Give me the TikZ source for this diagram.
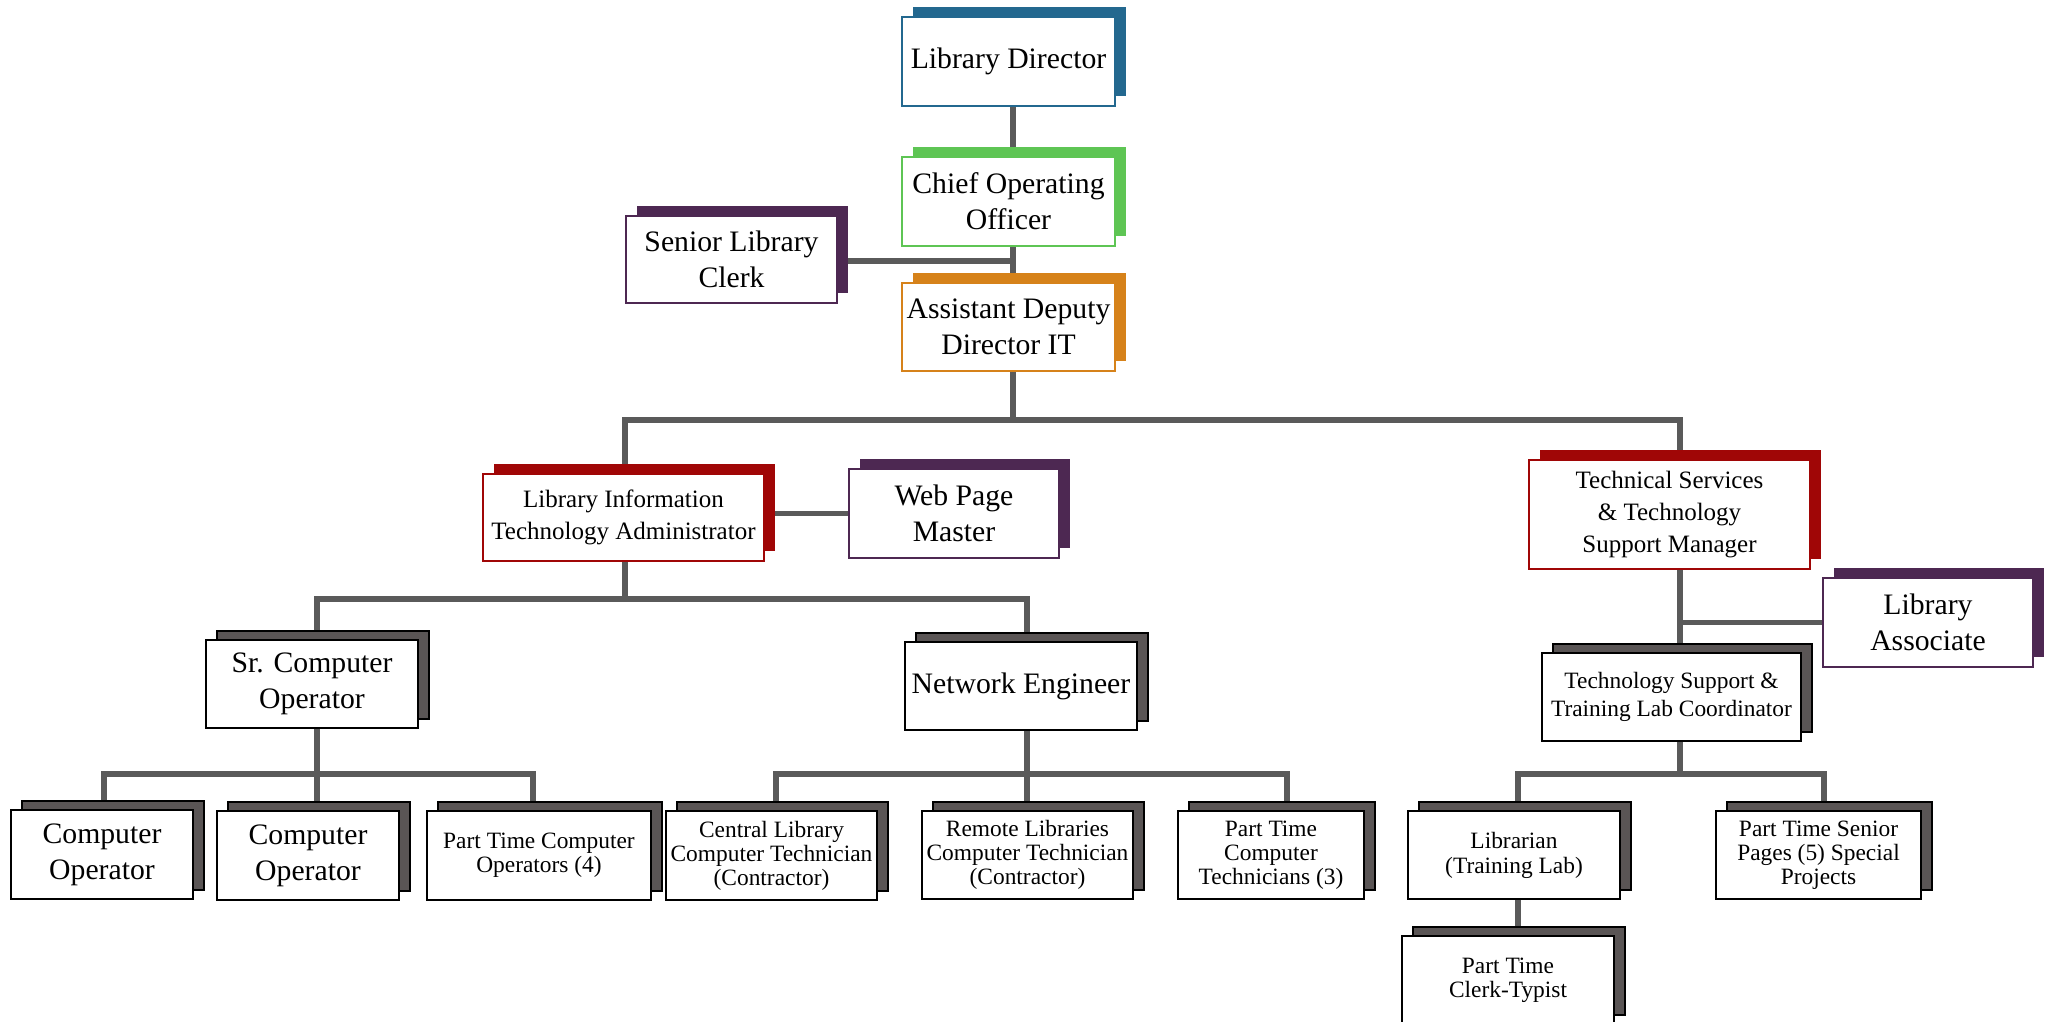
\documentclass[tikz,border=0pt]{standalone}
\usepackage{fontspec}
\setmainfont{Liberation Serif}
\usetikzlibrary{shadows,backgrounds}

\definecolor{dirblue}{RGB}{35,104,143}
\definecolor{coogreen}{RGB}{94,197,84}
\definecolor{itorange}{RGB}{214,130,26}
\definecolor{mgrred}{RGB}{160,6,6}
\definecolor{aidepurple}{RGB}{77,40,82}
\definecolor{boxshade}{RGB}{90,85,85}
\definecolor{linkgray}{RGB}{90,90,90}

\newcommand{\bigtxt}{\fontsize{29.7}{36}\selectfont}
\newcommand{\midtxt}{\fontsize{25}{32}\selectfont}
\newcommand{\smltxt}{\fontsize{23.4}{24}\selectfont}

\tikzset{
  post/.style={draw, fill=white, align=center, inner sep=0pt, font=\bigtxt},
  lead/.style={post, draw=#1, line width=1.5pt,
    general shadow={fill=#1, shadow xshift=11pt, shadow yshift=10pt}},
  staff/.style={post, draw=black, line width=2.2pt,
    general shadow={fill=boxshade, draw=black, line width=1.5pt,
      shadow xshift=11pt, shadow yshift=9pt}},
  link/.style={draw=linkgray, line width=5.5pt}
}

\begin{document}
\begin{tikzpicture}[x=1pt, y=-1pt]
      \useasboundingbox (0,0) rectangle (2054,1022);
      \coordinate (busA) at (0,420);
      \coordinate (busB) at (0,599);
      \coordinate (busC) at (0,774);

      % management
      \node[lead=dirblue, minimum width=213pt, minimum height=89pt] (ld) at (1008.5,61.5) {Library Director};
      \node[lead=coogreen, minimum width=213pt, minimum height=89pt] (coo) at (1008.5,201.5) {Chief Operating\\Officer};
      \node[lead=itorange, minimum width=213pt, minimum height=88pt] (add) at (1008.5,327) {Assistant Deputy\\Director IT};
      \node[lead=aidepurple, minimum width=211pt, minimum height=87pt] (slc) at (731.5,259.5) {Senior Library\\Clerk};
      \node[lead=mgrred, minimum width=281pt, minimum height=87pt, font=\midtxt] (lita) at (623.5,517.5) {Library Information\\Technology Administrator};
      \node[lead=aidepurple, minimum width=210pt, minimum height=89pt] (wpm) at (954,513.5) {Web Page\\Master};
      \node[lead=mgrred, minimum width=281pt, minimum height=109pt, font=\midtxt] (tsm) at (1669.5,514.5) {Technical Services\\\& Technology\\Support Manager};
      \node[lead=aidepurple, minimum width=210pt, minimum height=89pt] (la) at (1928,622.5) {Library\\Associate};

      % staff
      \node[staff, minimum width=212pt, minimum height=88pt] (sco) at (312,684) {Sr. Computer\\Operator};
      \node[staff, minimum width=232pt, minimum height=88pt] (ne) at (1021,686) {Network Engineer};
      \node[staff, minimum width=259pt, minimum height=88pt, font={\fontsize{23.4}{28}\selectfont}] (tstlc) at (1671.5,697) {Technology Support \&\\Training Lab Coordinator};
      \node[staff, minimum width=182pt, minimum height=89pt] (co1) at (102,854.5) {Computer\\Operator};
      \node[staff, minimum width=182pt, minimum height=89pt] (co2) at (308,855.5) {Computer\\Operator};
      \node[staff, minimum width=224pt, minimum height=89pt, font=\smltxt] (ptco) at (539,855.5) {Part Time Computer\\Operators (4)};
      \node[staff, minimum width=211pt, minimum height=89pt, font=\smltxt] (clct) at (771.5,855.5) {Central Library\\Computer Technician\\(Contractor)};
      \node[staff, minimum width=211pt, minimum height=88pt, font=\smltxt] (rlct) at (1027.5,855) {Remote Libraries\\Computer Technician\\(Contractor)};
      \node[staff, minimum width=186pt, minimum height=88pt, font=\smltxt] (ptct) at (1271,855) {Part Time\\Computer\\Technicians (3)};
      \node[staff, minimum width=212pt, minimum height=88pt, font={\fontsize{23.4}{25}\selectfont}] (lib) at (1514,855) {Librarian\\(Training Lab)};
      \node[staff, minimum width=205pt, minimum height=88pt, font=\smltxt] (ptsp) at (1818.5,855) {Part Time Senior\\Pages (5) Special\\Projects};
      \node[staff, minimum width=212pt, minimum height=88pt, font=\smltxt] (ctyp) at (1508,980) {Part Time\\Clerk-Typist};

      \begin{scope}[on background layer]
        \fill[white] (0,0) rectangle (2054,1022);
        \draw[link] ([xshift=4.5pt]ld.center) -- ([xshift=4.5pt]add.center);
        \draw[link] ([yshift=-1.5pt]slc.center) -- ([xshift=4.5pt,yshift=-1.5pt]slc.center -| add.center);
        \draw[link] ([xshift=4.5pt]add.center) -- ([xshift=4.5pt]add.center |- busA);
        \draw[link] ([xshift=1.5pt]lita.center) -- ([xshift=1.5pt]lita.center |- busA) -| ([xshift=10.5pt]tsm.center);
        \draw[link] ([yshift=4pt]lita.center) -- (wpm.center);
        \draw[link] ([xshift=1.5pt]lita.center) -- ([xshift=1.5pt]lita.center |- busB);
        \draw[link] ([xshift=5pt]sco.center) -- ([xshift=5pt]sco.center |- busB) -| ([xshift=6pt]ne.center);
        \draw[link] ([xshift=2pt]co1.center) -- ([xshift=2pt]co1.center |- busC) -| ([xshift=-6pt]ptco.center);
        \draw[link] ([xshift=5pt]sco.center) -- ([xshift=9pt]co2.center);
        \draw[link] ([xshift=4.5pt]clct.center) -- ([xshift=4.5pt]clct.center |- busC) -| ([xshift=16pt]ptct.center);
        \draw[link] ([xshift=6pt]ne.center) -- ([xshift=-0.5pt]rlct.center);
        \draw[link] ([xshift=10.5pt]tsm.center) -- ([xshift=8.5pt]tstlc.center);
        \draw[link] ([xshift=10.5pt]tsm.center |- la.center) -- (la.center);
        \draw[link] ([xshift=4pt]lib.center) -- ([xshift=4pt]lib.center |- busC) -| ([xshift=5.5pt]ptsp.center);
        \draw[link] ([xshift=8.5pt]tstlc.center) -- ([xshift=8.5pt]tstlc.center |- busC);
        \draw[link] ([xshift=4pt]lib.center) -- ([xshift=10pt]ctyp.center);
      \end{scope}
    \end{tikzpicture}
\end{document}
